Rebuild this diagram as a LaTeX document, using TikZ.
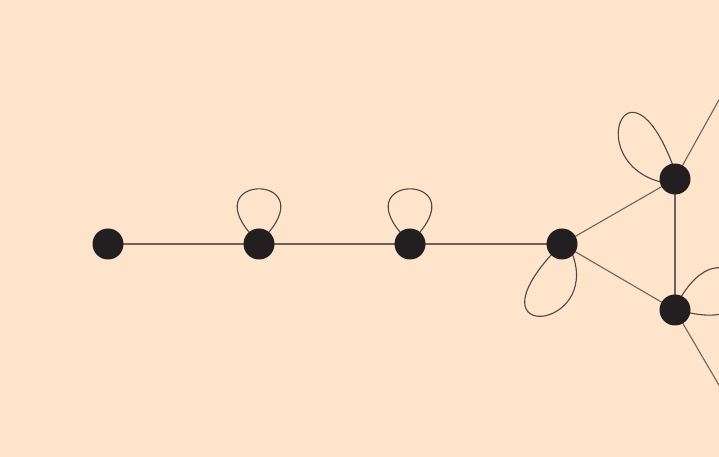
\documentclass[tikz,border=0pt]{standalone}
\usetikzlibrary{calc}
\begin{document}
\begin{tikzpicture}[x=1pt,y=1pt,
  vtx/.style={circle,fill=vfill,draw=none,minimum size=31pt,inner sep=0pt},
  edg/.style={draw=ecol,line width=1.1pt},
  lp/.style={draw=lcol,line width=1.1pt}]
\definecolor{bg}{HTML}{FDE4CA}
\definecolor{vfill}{HTML}{231F20}
\definecolor{ecol}{HTML}{6B635D}
\definecolor{lcol}{HTML}{4E4743}
\fill[bg] (0,0) rectangle (719,457);
\useasboundingbox (0,0) rectangle (719,457);
\coordinate (eout) at (730,377);
\coordinate (fout) at (730,53);
\coordinate (Ac) at (108,213);
\coordinate (Bc) at (259,213);
\coordinate (Cc) at (410,213);
\coordinate (Dc) at (562,213);
\coordinate (Ec) at (675,278);
\coordinate (Fc) at (675,147);
\draw[edg] (Ac) -- (Bc) -- (Cc) -- (Dc);
\draw[edg] (Dc) -- (Ec);
\draw[edg] (Dc) -- (Fc);
\draw[edg] (Ec) -- (Fc);
\draw[edg] (Ec) -- (eout);
\draw[edg] (Fc) -- (fout);
\draw[lp] ($(Bc)+(130:15)$) .. controls +(130:76) and +(50:76) .. ($(Bc)+(50:15)$);
\draw[lp] ($(Cc)+(130:15)$) .. controls +(130:76) and +(50:76) .. ($(Cc)+(50:15)$);
\draw[lp] ($(Dc)+(225:15)$) .. controls +(228:120) and +(290:80) .. ($(Dc)+(315:15)$);
\draw[lp] ($(Ec)+(100:15)$) .. controls +(111:125) and +(165:80) .. ($(Ec)+(191:15)$);
\draw[lp] ($(Fc)+(65:15)$) .. controls +(58:95) and +(-12:95) .. ($(Fc)+(-11:15)$);
\node[vtx] (A) at (Ac) {};
\node[vtx] (B) at (Bc) {};
\node[vtx] (C) at (Cc) {};
\node[vtx] (D) at (Dc) {};
\node[vtx] (E) at (Ec) {};
\node[vtx] (F) at (Fc) {};
\end{tikzpicture}
\end{document}
